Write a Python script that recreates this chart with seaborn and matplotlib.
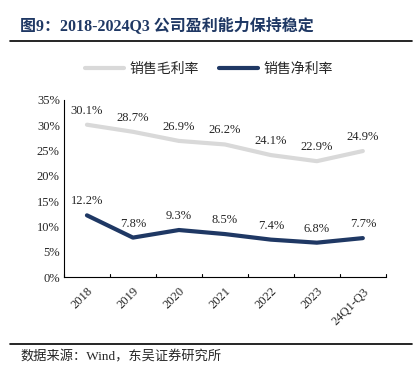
import pandas as pd
import seaborn as sns
import matplotlib.pyplot as plt
from matplotlib.lines import Line2D

# 销售毛利率 / 销售净利率 (%)
periods = ["2018", "2019", "2020", "2021", "2022", "2023", "24Q1-Q3"]
gross_margin = [30.1, 28.7, 26.9, 26.2, 24.1, 22.9, 24.9]
net_margin = [12.2, 7.8, 9.3, 8.5, 7.4, 6.8, 7.7]
series_names = ["销售毛利率", "销售净利率"]
yticks = [0, 5, 10, 15, 20, 25, 30, 35]

sns.set_style("white")
fonts = ['Liberation Serif', 'Noto Sans CJK SC', 'DejaVu Sans']
plt.rcParams['font.family'] = fonts

gray = "#D9D9D9"
navy = "#1F3864"

df = pd.DataFrame({"period": periods * 2,
                   "value": gross_margin + net_margin,
                   "series": [series_names[0]] * 7 + [series_names[1]] * 7})
df["x"] = list(range(7)) * 2

fig = plt.figure(figsize=(4.18, 3.77), dpi=100)
ax = fig.add_axes([0.153, 0.265, 0.770, 0.470])
sns.lineplot(data=df, x="x", y="value", hue="series", palette=[gray, navy],
             linewidth=3, ax=ax, legend=False)

# data labels
for i, v in enumerate(gross_margin):
    ax.text(i, v + 1.6, f"{v}%", ha="center", va="bottom", fontsize=9)
for i, v in enumerate(net_margin):
    ax.text(i, v + 1.6, f"{v}%", ha="center", va="bottom", fontsize=9)

ax.set_xlim(-0.5, 6.5)
ax.set_ylim(0, 35)
ax.set_yticks(yticks)
ax.set_yticklabels([f"{t}%" for t in yticks], fontsize=9)
ax.set_xticks(range(7))
ax.set_xticklabels(periods, rotation=45, ha="right", rotation_mode="anchor", fontsize=9)
ax.tick_params(axis="x", length=0, pad=6)
ax.tick_params(axis="y", length=0, pad=3)
# ticks between categories
for b in [k + 0.5 for k in range(-1, 7)]:
    ax.plot([b, b], [0, 0.7], color="black", lw=0.8, clip_on=False)
ax.set_xlabel("")
ax.set_ylabel("")
for s in ["top", "right"]:
    ax.spines[s].set_visible(False)
for s in ["left", "bottom"]:
    ax.spines[s].set_color("black")
    ax.spines[s].set_linewidth(0.8)

handles = [Line2D([], [], color=gray, lw=3), Line2D([], [], color=navy, lw=3)]
fig.legend(handles, series_names, loc="center", bbox_to_anchor=(0.5, 0.817), ncol=2,
           frameon=False, handlelength=2.8, columnspacing=1.5,
           handletextpad=0.4, prop={"family": fonts, "size": 10})

fig.text(20 / 418, 1 - 27 / 377, "图9：2018-2024Q3 公司盈利能力保持稳定", fontsize=11.5,
         fontweight="bold", color=navy, va="center", ha="left")
fig.add_artist(Line2D([10 / 418, 412 / 418], [1 - 41 / 377] * 2, color="black", lw=1.2))
fig.add_artist(Line2D([10 / 418, 412 / 418], [1 - 344 / 377] * 2, color="black", lw=1.2))
fig.text(20 / 418, 1 - 357 / 377, "数据来源：Wind，东吴证券研究所", fontsize=9.5,
         va="center", ha="left")

fig.savefig("out.png", dpi=100)
